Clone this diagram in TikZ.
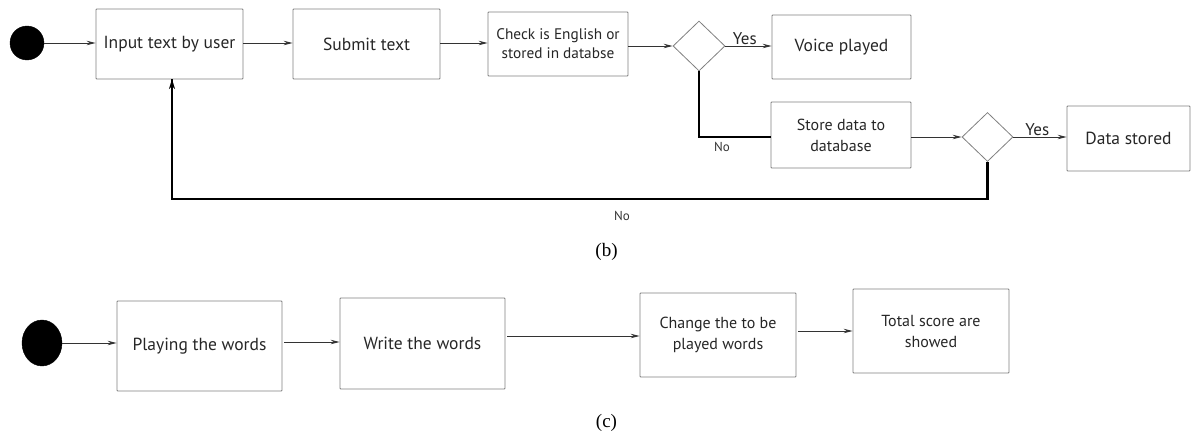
\documentclass[tikz,border=0pt]{standalone}
\usepackage{fontspec}
\setmainfont{PT Sans}
\newfontfamily\capfont{Liberation Serif}
\usetikzlibrary{shapes.geometric,arrows.meta}
\tikzset{
  box/.style={draw=black!50, line width=0.8pt, rounded corners=0.8pt, align=center, inner sep=2pt, font=\fontsize{17.5}{21}\selectfont, text=black!85},
  twoline/.style={font=\fontsize{16}{21}\selectfont},
  dec/.style={draw=black!50, line width=0.8pt, shape=diamond, inner sep=0pt, minimum width=52pt, minimum height=50pt},
  startdot/.style={fill=black, draw=black, circle, inner sep=0pt},
  flow/.style={draw=black!80, line width=0.9pt, -{Stealth[length=9pt,width=4.5pt,inset=3pt]}},
  thick flow/.style={draw=black, line width=2.2pt},
  lbl/.style={font=\fontsize{17}{19}\selectfont, text=black!85},
  smalllbl/.style={font=\fontsize{13}{15}\selectfont, text=black!80},
  caplbl/.style={font=\capfont\fontsize{19}{21}\selectfont}
}
\begin{document}
\begin{tikzpicture}[x=1pt,y=-1pt]
\useasboundingbox (0,0) rectangle (1203,439);
% ---------- (b) ----------
\node[startdot, minimum size=34pt] (s1) at (27,43) {};
\node[box, minimum width=147pt, minimum height=70pt] (inp) at (169.5,44) {Input text by user};
\node[box, minimum width=147pt, minimum height=70pt] (sub) at (366.5,44) {Submit text};
\node[box, minimum width=140pt, minimum height=64pt, font=\fontsize{15.3}{19}\selectfont] (chk) at (558,44) {Check is English or\\stored in databse};
\node[dec] (d1) at (699,46) {};
\node[box, minimum width=139pt, minimum height=64pt] (voice) at (841.5,47) {Voice played};
\node[box, twoline, minimum width=140pt, minimum height=66pt] (store) at (841,135) {Store data to\\database};
\node[dec, minimum width=51pt, minimum height=49pt] (d2) at (987.5,137) {};
\node[box, minimum width=123pt, minimum height=65pt] (data) at (1128.5,138.5) {Data stored};
\coordinate (c1) at (699,137);
\coordinate (c2) at (987.5,199);
\coordinate (c3) at (172,199);
\coordinate (c4) at (172,79);

\draw[flow] (s1.east) -- (s1.east -| inp.west);
\draw[flow] (inp.east |- 0,43) -- (sub.west |- 0,43);
\draw[flow] (sub.east |- 0,43) -- (chk.west |- 0,43);
\draw[flow] (chk.east |- d1) -- (d1.west);
\draw[flow] (d1.east) -- (d1.east -| voice.west) node[lbl, pos=0.42, above=-2pt] {Yes};
\draw[thick flow] (d1.south) -- (c1) -- (c1 -| store.west);
\node[smalllbl] (no1) at (722,147) {No};
\draw[flow] (store.east |- d2) -- (d2.west);
\draw[flow] (d2.east) -- (d2.east -| data.west) node[lbl, pos=0.45, above=-2pt] {Yes};
\draw[thick flow] (d2.south) -- (c2) -- (c3) -- (c4);
\draw[draw=black, line width=1.6pt, -{Stealth[length=10pt,width=6pt,inset=3pt]}] ([yshift=-10pt]c4) -- (c4);
\node[smalllbl] (no2) at (622,216) {No};
\node[caplbl] (capb) at (606.5,252) {(b)};
% ---------- (c) ----------
\node[startdot, minimum width=40pt, minimum height=46pt, ellipse] (s2) at (42,343) {};
\node[box, minimum width=165pt, minimum height=90pt] (play) at (199.5,346) {Playing the words};
\node[box, minimum width=165pt, minimum height=91pt] (write) at (422.5,343.5) {Write the words};
\node[box, twoline, minimum width=156pt, minimum height=84pt] (chg) at (718,335) {Change the to be\\played words};
\node[box, twoline, minimum width=156pt, minimum height=84pt] (tot) at (931,331) {Total score are\\showed};
\draw[flow] (s2.east |- 0,343) -- (play.west |- 0,343);
\draw[flow] ([xshift=2pt]play.east |- 0,342) -- (write.west |- 0,342);
\draw[flow] ([xshift=2pt]write.east |- 0,336) -- (chg.west |- 0,336);
\draw[flow] ([xshift=2pt]chg.east |- 0,331) -- (tot.west |- 0,331);
\node[caplbl] (capc) at (606.5,423) {(c)};
\end{tikzpicture}
\end{document}
